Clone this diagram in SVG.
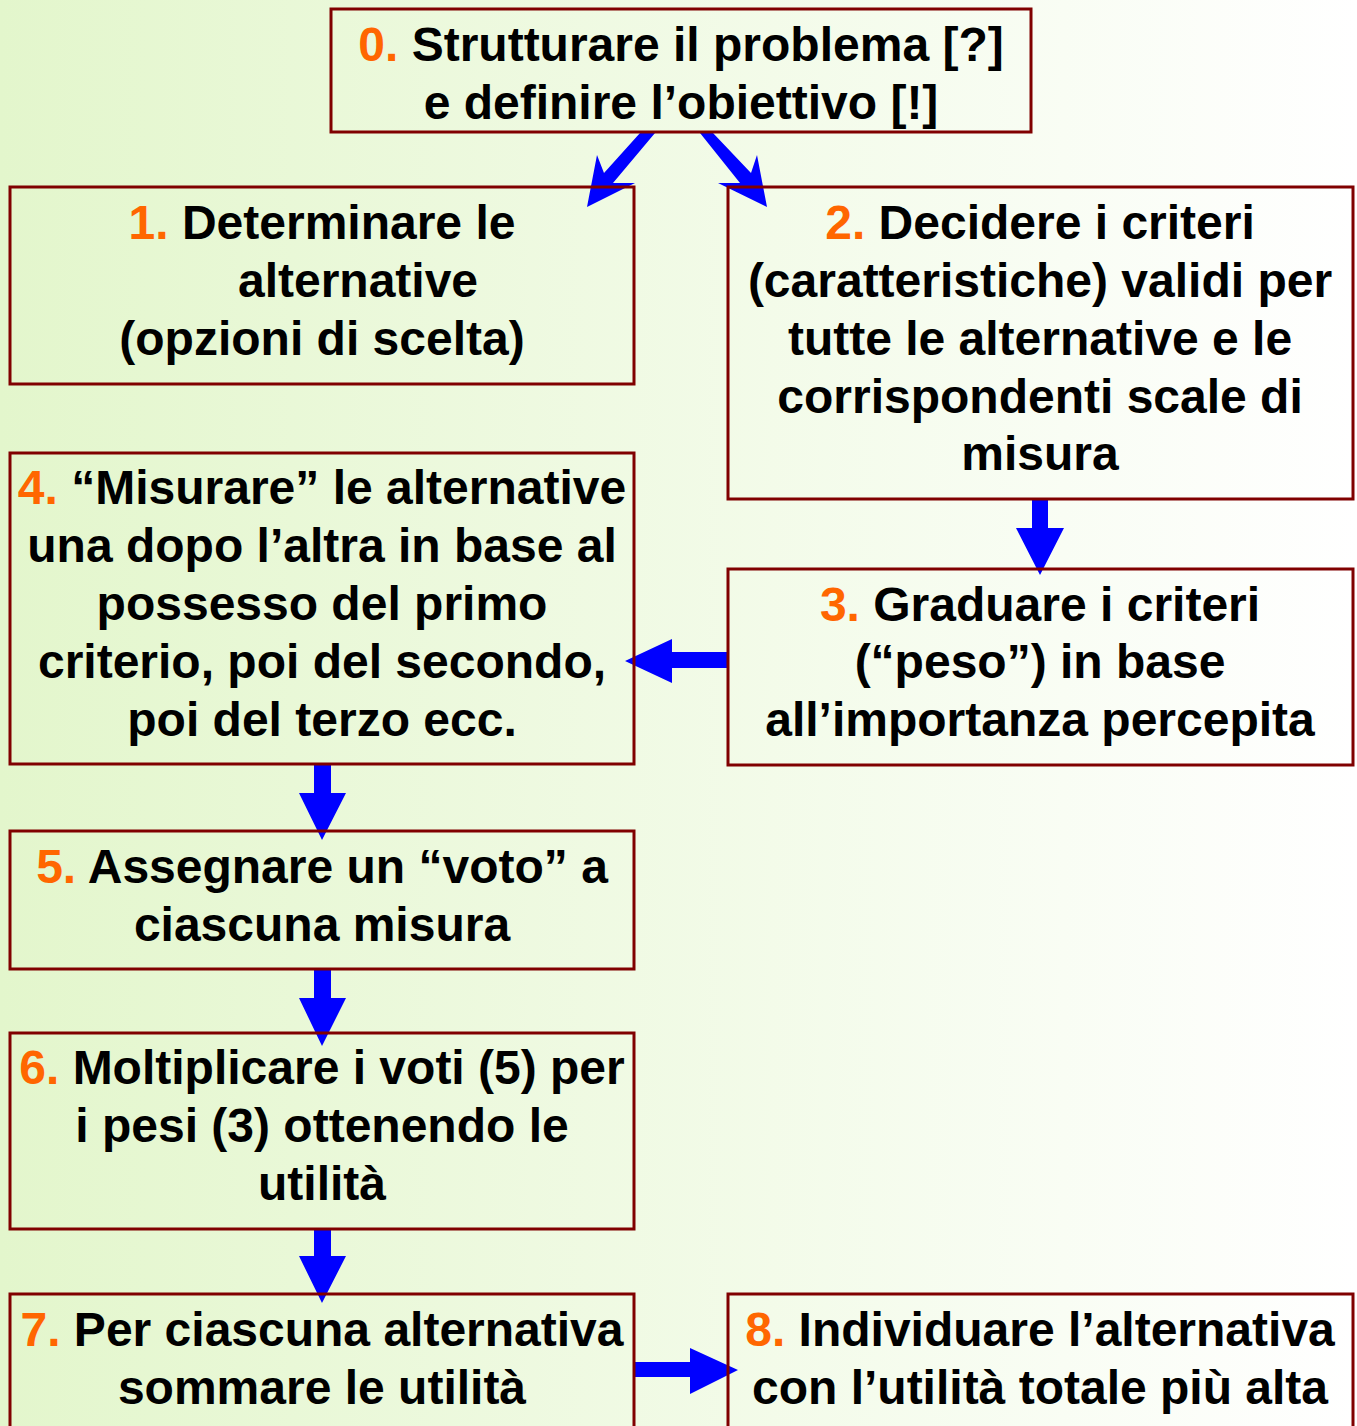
<svg xmlns="http://www.w3.org/2000/svg" width="1357" height="1426" viewBox="0 0 1357 1426">
<defs>
<linearGradient id="bg" x1="0" y1="0" x2="1" y2="0">
<stop offset="0" stop-color="#e3f6cc"/>
<stop offset="1" stop-color="#ffffff"/>
</linearGradient>
</defs>
<style>
.box{fill:none;stroke:#800000;stroke-width:3}
text{font-family:"Liberation Sans",Arial,sans-serif;font-weight:bold;font-size:48px;fill:#000;text-anchor:middle}
.n{fill:#ff6600}
.arr{fill:#0000ff}
</style>
<rect width="1357" height="1426" fill="url(#bg)"/>
<g id="connectors">
<polygon class="arr" points="640,133 655,133 613,183 635,183 587,207 597,155 604,173"/>
<polygon class="arr" points="700,133 713,133 751,173 757,155 767,207 718,183 740,183"/>
<polygon class="arr" points="1032,500 1048,500 1048,528 1064,528 1040,575 1016,528 1032,528"/>
<polygon class="arr" points="728,652 728,668 672,668 672,683 625,661 672,639 672,652"/>
<polygon class="arr" points="314,765 331,765 331,793 346,793 322,840 299,793 314,793"/>
<polygon class="arr" points="314,970 331,970 331,998 346,998 322,1046 299,998 314,998"/>
<polygon class="arr" points="314,1230 331,1230 331,1256 346,1256 322,1303 299,1256 314,1256"/>
<polygon class="arr" points="634,1362 690,1362 690,1348 738,1370 690,1394 690,1377 634,1377"/>
</g>
<g id="n0"><rect class="box" x="331" y="9" width="700" height="123"/>
<text x="681" y="61"><tspan class="n">0.</tspan> Strutturare il problema [?]</text>
<text x="681" y="119">e definire l’obiettivo [!]</text></g>
<g id="n1"><rect class="box" x="10" y="187" width="624" height="197"/>
<text x="322" y="239"><tspan class="n">1.</tspan> Determinare le</text>
<text x="358" y="297">alternative</text>
<text x="322" y="355">(opzioni di scelta)</text></g>
<g id="n2"><rect class="box" x="728" y="187" width="625" height="312"/>
<text x="1040" y="239"><tspan class="n">2.</tspan> Decidere i criteri</text>
<text x="1040" y="297">(caratteristiche) validi per</text>
<text x="1040" y="355">tutte le alternative e le</text>
<text x="1040" y="413">corrispondenti scale di</text>
<text x="1040" y="470">misura</text></g>
<g id="n3"><rect class="box" x="728" y="569" width="625" height="196"/>
<text x="1040" y="621"><tspan class="n">3.</tspan> Graduare i criteri</text>
<text x="1040" y="678">(“peso”) in base</text>
<text x="1040" y="736">all’importanza percepita</text></g>
<g id="n4"><rect class="box" x="10" y="453" width="624" height="311"/>
<text x="322" y="504"><tspan class="n">4.</tspan> “Misurare” le alternative</text>
<text x="322" y="562">una dopo l’altra in base al</text>
<text x="322" y="620">possesso del primo</text>
<text x="322" y="678">criterio, poi del secondo,</text>
<text x="322" y="736">poi del terzo ecc.</text></g>
<g id="n5"><rect class="box" x="10" y="831" width="624" height="138"/>
<text x="322" y="883"><tspan class="n">5.</tspan> Assegnare un “voto” a</text>
<text x="322" y="941">ciascuna misura</text></g>
<g id="n6"><rect class="box" x="10" y="1033" width="624" height="196"/>
<text x="322" y="1084"><tspan class="n">6.</tspan> Moltiplicare i voti (5) per</text>
<text x="322" y="1142">i pesi (3) ottenendo le</text>
<text x="322" y="1200">utilità</text></g>
<g id="n7"><rect class="box" x="10" y="1294" width="624" height="140"/>
<text x="322" y="1346"><tspan class="n">7.</tspan> Per ciascuna alternativa</text>
<text x="322" y="1404">sommare le utilità</text></g>
<g id="n8"><rect class="box" x="728" y="1294" width="625" height="140"/>
<text x="1040" y="1346"><tspan class="n">8.</tspan> Individuare l’alternativa</text>
<text x="1040" y="1404">con l’utilità totale più alta</text></g>
</svg>
